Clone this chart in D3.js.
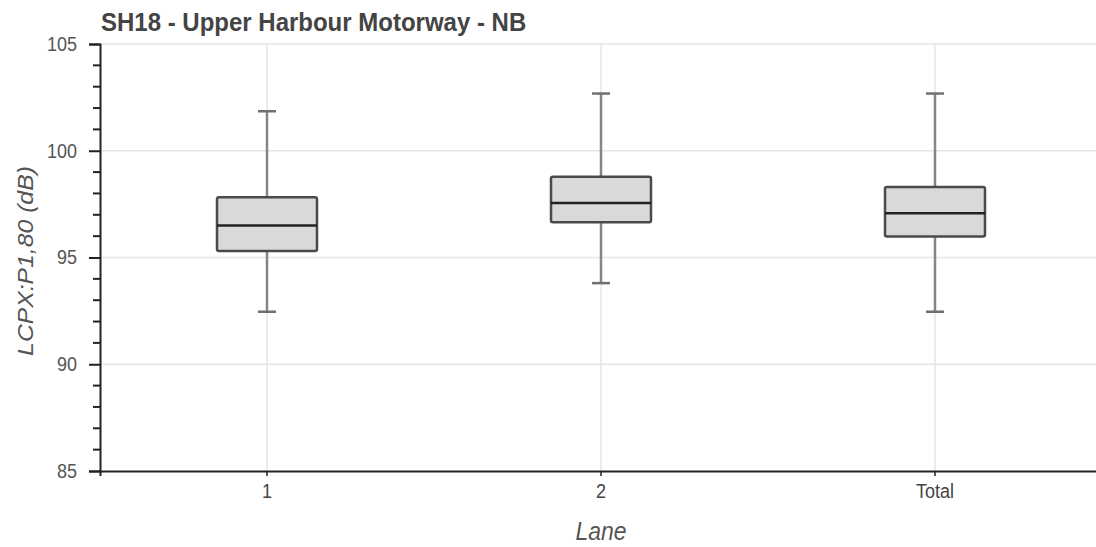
<!DOCTYPE html>
<html>
<head>
<meta charset="utf-8">
<script src="https://cdn.jsdelivr.net/npm/d3@7"></script>
<style>
  body { margin: 0; background: #fff; }
  svg { display: block; font-family: "Liberation Sans", Arial, sans-serif; }
</style>
</head>
<body>
<svg width="1096" height="547"></svg>
<script>
// data
const lanes = ["1", "2", "Total"];
const whiskerLow = [92.46, 93.8, 92.46];
const q1 = [95.3, 96.65, 95.98];
const median = [96.5, 97.55, 97.07];
const q3 = [97.82, 98.78, 98.3];
const whiskerHigh = [101.85, 102.68, 102.68];
const yTicks = [85, 90, 95, 100, 105];

const boxes = lanes.map((lane, i) => ({
  lane,
  lo: whiskerLow[i],
  q1: q1[i],
  med: median[i],
  q3: q3[i],
  hi: whiskerHigh[i]
}));

const margin = { top: 44, left: 100, bottom: 76 };
const width = 1096, height = 547;
const stretch = "scale(1,1.1)"; // text in the reference is a bit taller than wide
const svg = d3.select("svg");

const x = d3.scaleBand().domain(lanes).range([margin.left, 1102]);
const y = d3.scaleLinear().domain([85, 105]).range([height - margin.bottom, margin.top]);
const cx = (lane) => x(lane) + x.bandwidth() / 2;

// grid
const grid = svg.append("g");
grid.selectAll("line.hg")
  .data(yTicks.slice(1))
  .enter()
  .append("line")
  .attr("x1", margin.left)
  .attr("x2", width)
  .attr("y1", (d) => y(d))
  .attr("y2", (d) => y(d))
  .attr("stroke", "#e6e6e6")
  .attr("stroke-width", 1.5);

grid.selectAll("line.vg")
  .data(lanes)
  .enter()
  .append("line")
  .attr("x1", cx)
  .attr("x2", cx)
  .attr("y1", y(85))
  .attr("y2", y(105))
  .attr("stroke", "#e6e6e6")
  .attr("stroke-width", 1.5);

// boxes
const boxW = 100, capW = 18;
const b = svg.append("g")
  .selectAll("g.box")
  .data(boxes)
  .enter()
  .append("g")
  .attr("class", "box")
  .attr("transform", (d) => `translate(${cx(d.lane)},0)`);

b.append("line")
  .attr("y1", (d) => y(d.lo))
  .attr("y2", (d) => y(d.hi))
  .attr("stroke", "#858585")
  .attr("stroke-width", 2.5);

b.selectAll("line.cap")
  .data((d) => [d.lo, d.hi])
  .enter()
  .append("line")
  .attr("x1", -capW / 2)
  .attr("x2", capW / 2)
  .attr("y1", (d) => y(d))
  .attr("y2", (d) => y(d))
  .attr("stroke", "#707070")
  .attr("stroke-width", 2.5);

b.append("rect")
  .attr("x", -boxW / 2)
  .attr("width", boxW)
  .attr("y", (d) => y(d.q3))
  .attr("height", (d) => y(d.q1) - y(d.q3))
  .attr("rx", 2)
  .attr("fill", "#d9d9d9")
  .attr("stroke", "#4a4a4a")
  .attr("stroke-width", 2.5);

b.append("line")
  .attr("x1", -boxW / 2)
  .attr("x2", boxW / 2)
  .attr("y1", (d) => y(d.med))
  .attr("y2", (d) => y(d.med))
  .attr("stroke", "#222")
  .attr("stroke-width", 2.5);

// y axis
const yAxis = svg.append("g")
  .attr("transform", `translate(${margin.left},0)`)
  .call(d3.axisLeft(y).tickValues(yTicks).tickSize(11).tickPadding(12));
yAxis.select(".domain").attr("stroke", "#222").attr("stroke-width", 2);
yAxis.selectAll(".tick line").attr("stroke", "#222").attr("stroke-width", 2);
yAxis.selectAll(".tick text")
  .attr("font-size", 18)
  .attr("fill", "#555")
  .attr("font-family", "Liberation Sans, Arial, sans-serif")
  .attr("transform", stretch);

svg.append("g")
  .selectAll("line.minor")
  .data(d3.range(85, 105, 1).filter((v) => v % 5 !== 0))
  .enter()
  .append("line")
  .attr("x1", margin.left - 7)
  .attr("x2", margin.left)
  .attr("y1", (d) => y(d))
  .attr("y2", (d) => y(d))
  .attr("stroke", "#222")
  .attr("stroke-width", 2);

// x axis
const xAxis = svg.append("g")
  .attr("transform", `translate(0,${y(85)})`)
  .call(d3.axisBottom(x).tickSizeOuter(0).tickSize(5).tickPadding(7));
xAxis.select(".domain").attr("stroke", "#222").attr("stroke-width", 2);
xAxis.selectAll(".tick line").attr("stroke", "#222").attr("stroke-width", 1.5);
xAxis.selectAll(".tick text")
  .attr("font-size", 18)
  .attr("fill", "#444")
  .attr("font-family", "Liberation Sans, Arial, sans-serif")
  .attr("transform", stretch);

// title and labels
svg.append("g")
  .attr("transform", `translate(101,31) ${stretch}`)
  .append("text")
  .attr("font-size", 24)
  .attr("font-weight", "bold")
  .attr("fill", "#444")
  .text("SH18 - Upper Harbour Motorway - NB");

svg.append("text")
  .attr("transform", `translate(33,261) rotate(-90) scale(1.1,1)`)
  .attr("text-anchor", "middle")
  .attr("font-size", 22.5)
  .attr("font-style", "italic")
  .attr("fill", "#555")
  .text("LCPX:P1,80 (dB)");

svg.append("g")
  .attr("transform", `translate(${cx("2")},540) ${stretch}`)
  .append("text")
  .attr("text-anchor", "middle")
  .attr("font-size", 23)
  .attr("font-style", "italic")
  .attr("fill", "#555")
  .text("Lane");
</script>
</body>
</html>
